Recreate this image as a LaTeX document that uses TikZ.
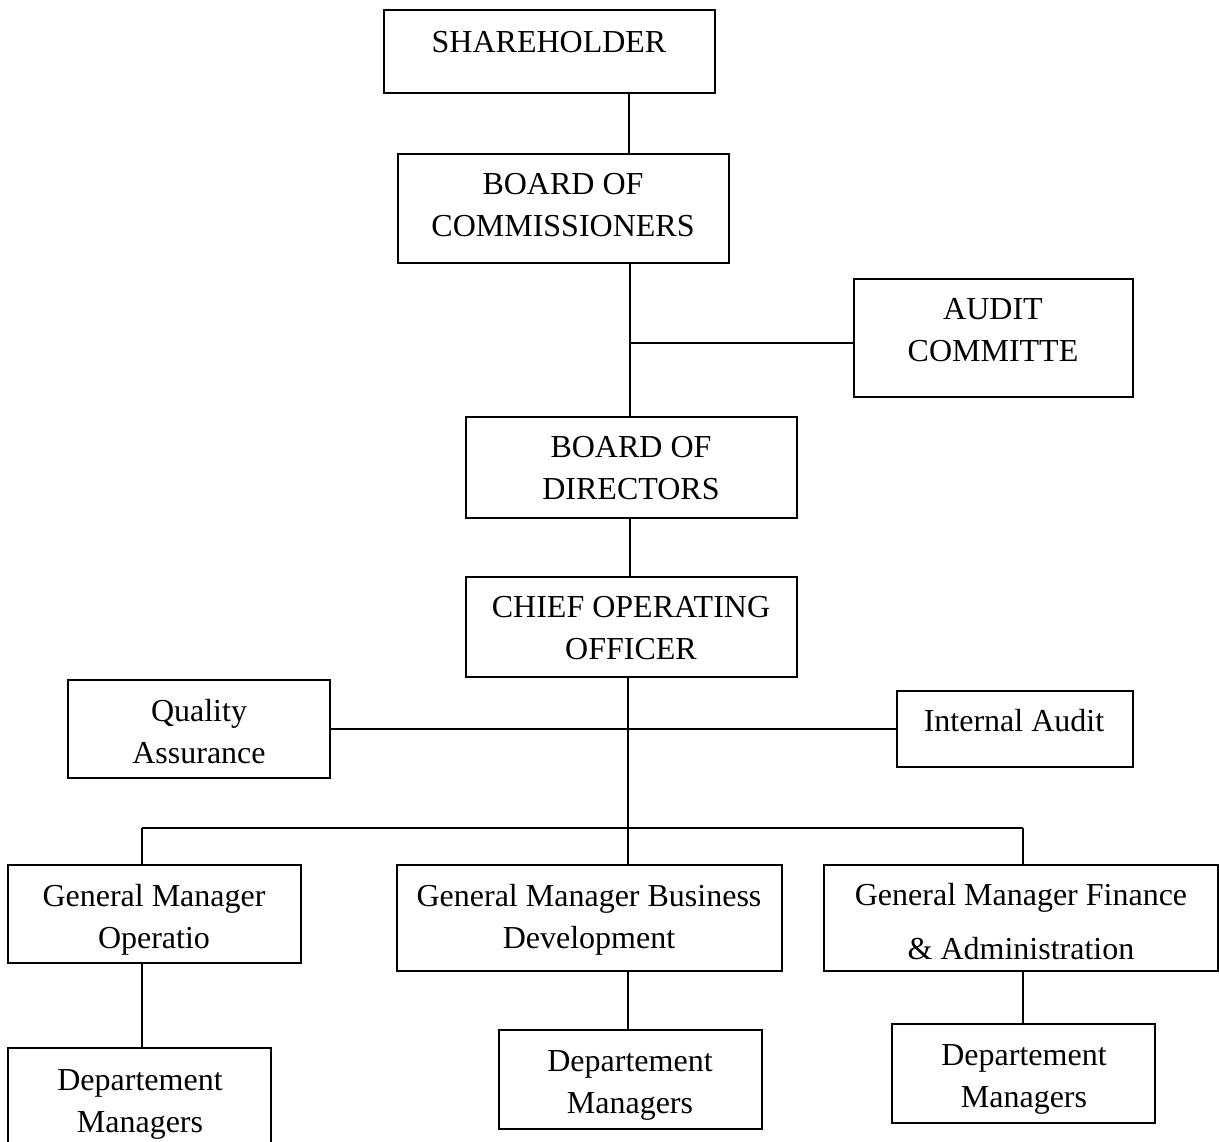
\documentclass[tikz,border=0pt]{standalone}
\usepackage{fontspec}
\setmainfont{Liberation Serif}
\begin{document}
\begin{tikzpicture}[x=1pt,y=-1pt,
  box/.style={draw=black,line width=2pt,fill=white,inner sep=0pt},
  txt/.style={align=center,inner sep=0pt,font=\fontsize{32}{42}\selectfont},
  conn/.style={draw=black,line width=1.6pt}]
\useasboundingbox[fill=white] (0,0) rectangle (1219,1142);
% boxes
\node[box,minimum width=331pt,minimum height=83pt] (sh) at (549.5,51.5) {};
\node[box,minimum width=331pt,minimum height=109pt] (bc) at (563.5,208.5) {};
\node[box,minimum width=279pt,minimum height=118pt] (ac) at (993.5,338) {};
\node[box,minimum width=331pt,minimum height=101pt] (bd) at (631.5,467.5) {};
\node[box,minimum width=331pt,minimum height=100pt] (coo) at (631.5,627) {};
\node[box,minimum width=262pt,minimum height=98pt] (qa) at (199,729) {};
\node[box,minimum width=236pt,minimum height=76pt] (ia) at (1015,729) {};
\node[box,minimum width=293pt,minimum height=98pt] (gmo) at (154.5,914) {};
\node[box,minimum width=385pt,minimum height=106pt] (gmb) at (589.5,918) {};
\node[box,minimum width=394pt,minimum height=106pt] (gmf) at (1021,918) {};
\node[box,minimum width=263pt,minimum height=104pt] (dm1) at (139.5,1100) {};
\node[box,minimum width=263pt,minimum height=99pt] (dm2) at (630.5,1079.5) {};
\node[box,minimum width=263pt,minimum height=99pt] (dm3) at (1023.5,1073.5) {};
% texts
\node[txt] (sht) at (549,42) {SHAREHOLDER};
\node[txt] (bct) at (563,205.5) {BOARD OF\\COMMISSIONERS};
\node[txt] (act) at (993,330) {AUDIT\\COMMITTE};
\node[txt] (bdt) at (631,468) {BOARD OF\\DIRECTORS};
\node[txt] (coot) at (631,628) {CHIEF OPERATING\\OFFICER};
\node[txt] (qat) at (199,731.5) {Quality\\Assurance};
\node[txt] (iat) at (1014,721) {Internal Audit};
\node[txt] (gmot) at (154,919.5) {General Manager\\Operatio};
\node[txt] (gmbt) at (589,919.5) {General Manager Business\\Development};
\node[txt] (gmft) at (1021,922) {General Manager Finance\\[12pt]\& Administration};
\node[txt] (dm1t) at (140,1104) {Departement\\Managers};
\node[txt] (dm2t) at (630,1085.5) {Departement\\Managers};
\node[txt] (dm3t) at (1024,1079.5) {Departement\\Managers};
% connector coordinates
\coordinate (x1) at (629,0);
\coordinate (x2) at (630,0);
\coordinate (xm) at (628,0);
\coordinate (jA) at (630,343);
\coordinate (jQ) at (628,729);
\coordinate (jG) at (628,828);
\coordinate (gL) at (142,828);
\coordinate (gR) at (1023,828);
% connectors
\draw[conn] (sh.south -| x1) -- (bc.north -| x1);
\draw[conn] (bc.south -| x2) -- (bd.north -| x2);
\draw[conn] (jA) -- (ac.west |- jA);
\draw[conn] (bd.south -| x2) -- (coo.north -| x2);
\draw[conn] (coo.south -| xm) -- (gmb.north -| xm);
\draw[conn] (qa.east |- jQ) -- (ia.west |- jQ);
\draw[conn] (gL) -- (gR);
\draw[conn] (gL) -- (gmo.north -| gL);
\draw[conn] (gR) -- (gmf.north -| gR);
\draw[conn] (gmo.south -| gL) -- (dm1.north -| gL);
\draw[conn] (gmb.south -| xm) -- (dm2.north -| xm);
\draw[conn] (gmf.south -| gR) -- (dm3.north -| gR);
\end{tikzpicture}
\end{document}
